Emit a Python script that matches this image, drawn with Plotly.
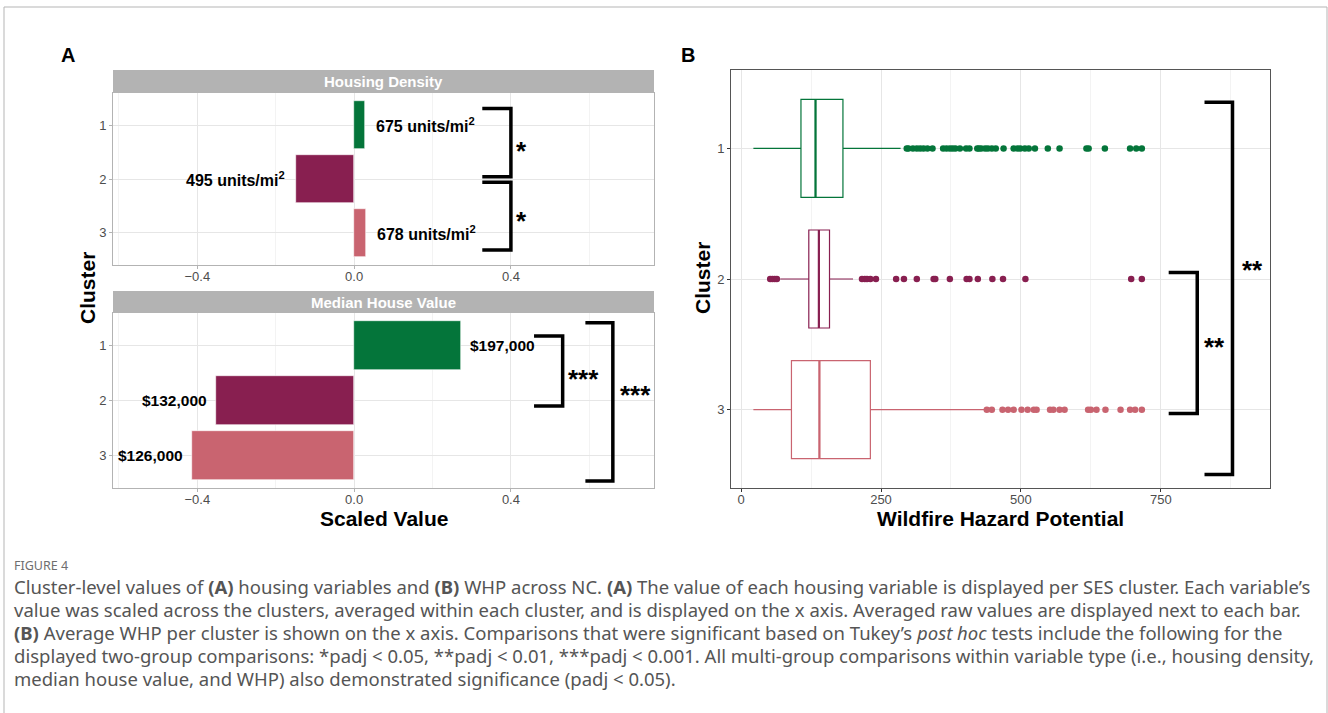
import plotly.graph_objects as go

# ---------------- data ----------------
clusters = [1, 2, 3]
cluster_ticks = ["1", "2", "3"]

# Panel A: scaled values
housing_density_scaled = [0.028, -0.148, 0.030]
housing_density_raw = [675, 495, 678]
house_value_scaled = [0.273, -0.352, -0.413]
house_value_raw = [197000, 132000, 126000]

scaled_ticks = [-0.4, 0.0, 0.4]
scaled_ticktext = ["\u22120.4", "0.0", "0.4"]
scaled_minor = [-0.6, -0.2, 0.2, 0.6]

# Panel B: WHP box summaries
whp_lowerfence = [22, 70, 22]
whp_q1 = [107, 121, 90]
whp_median = [133, 139, 140]
whp_q3 = [182, 158, 231]
whp_upperfence = [285, 200, 436]
whp_outliers = [
    [296, 299, 307, 314, 320, 326, 333, 342, 361, 367, 373, 378, 383, 391, 402, 408,
     422, 425, 429, 436, 441, 448, 455, 469, 487, 494, 499, 507, 514, 525, 548, 569,
     617, 621, 650, 695, 706, 716],
    [52, 56, 60, 64, 216, 221, 225, 231, 241, 277, 291, 314, 344, 347, 373, 403, 408,
     423, 449, 468, 508, 697, 716],
    [439, 448, 467, 477, 487, 501, 512, 523, 528, 552, 558, 569, 578, 620, 625, 635,
     651, 678, 695, 704, 716],
]
whp_ticks = [0, 250, 500, 750]
whp_minor = [125, 375, 625, 875]

# significance comparisons (labels)
hd_sig = ["*", "*"]
mhv_sig = ["***", "***"]
whp_sig = ["**", "**"]

colors = ["#04753A", "#881F50", "#C96470"]

# ---------------- layout helpers ----------------
W, H = 1328, 713
FONT = "Liberation Sans, Arial, Helvetica, sans-serif"


def px(x):
    return x / W


def py(y):
    return 1 - y / H


fig = go.Figure()

# Panel A bars
fig.add_trace(go.Bar(x=housing_density_scaled, y=clusters, orientation="h", width=0.9,
                     marker=dict(color=colors, line=dict(color="white", width=0.6)),
                     xaxis="x", yaxis="y", showlegend=False, hoverinfo="skip"))
fig.add_trace(go.Bar(x=house_value_scaled, y=clusters, orientation="h", width=0.9,
                     marker=dict(color=colors, line=dict(color="white", width=0.6)),
                     xaxis="x2", yaxis="y2", showlegend=False, hoverinfo="skip"))

# Panel B boxes
BOXW = 0.75
for i, c in enumerate(clusters):
    fig.add_trace(go.Box(y=[c], q1=[whp_q1[i]], median=[whp_median[i]], q3=[whp_q3[i]],
                         lowerfence=[whp_lowerfence[i]], upperfence=[whp_upperfence[i]],
                         orientation="h", width=BOXW, boxpoints=False, whiskerwidth=0,
                         fillcolor="white", line=dict(color=colors[i], width=1.2),
                         xaxis="x3", yaxis="y3", showlegend=False, hoverinfo="skip"))
    fig.add_trace(go.Scatter(x=[whp_median[i], whp_median[i]], y=[c - BOXW / 2, c + BOXW / 2],
                             mode="lines", line=dict(color=colors[i], width=2.2),
                             xaxis="x3", yaxis="y3", showlegend=False, hoverinfo="skip"))
    fig.add_trace(go.Scatter(x=whp_outliers[i], y=[c] * len(whp_outliers[i]), mode="markers",
                             marker=dict(color=colors[i], size=6.5),
                             xaxis="x3", yaxis="y3", showlegend=False, hoverinfo="skip"))

tickfont = dict(family=FONT, size=13, color="#4d4d4d")

A_x = [px(113), px(654)]
B_x = [px(731), px(1270)]
A_top_y = [py(265), py(93)]
A_bot_y = [py(488), py(313)]
B_y = [py(488), py(70)]

common_A_x = dict(range=[-0.615, 0.765], tickvals=scaled_ticks, ticktext=scaled_ticktext,
                  showgrid=True, gridcolor="#e6e6e6", gridwidth=1, zeroline=False,
                  minor=dict(tickvals=scaled_minor, showgrid=True, gridcolor="#f3f3f3", gridwidth=1),
                  showline=True, linecolor="#b3b3b3", linewidth=1, mirror=True,
                  ticks="outside", ticklen=3, tickcolor="#b3b3b3", tickfont=tickfont,
                  ticklabelstandoff=-4)
common_A_y = dict(range=[3.6, 0.4], tickvals=clusters, ticktext=cluster_ticks,
                  showgrid=True, gridcolor="#e6e6e6", zeroline=False,
                  showline=True, linecolor="#b3b3b3", linewidth=1, mirror=True,
                  ticks="outside", ticklen=3, tickcolor="#b3b3b3", tickfont=tickfont)

fig.update_layout(
    width=W, height=H, margin=dict(l=0, r=0, t=0, b=0),
    paper_bgcolor="white", plot_bgcolor="white", bargap=0,
    font=dict(family=FONT),
    xaxis=dict(domain=A_x, anchor="y", **common_A_x),
    yaxis=dict(domain=A_top_y, anchor="x", **common_A_y),
    xaxis2=dict(domain=A_x, anchor="y2", **common_A_x),
    yaxis2=dict(domain=A_bot_y, anchor="x2", **common_A_y),
    xaxis3=dict(domain=B_x, anchor="y3", range=[-18, 945], tickvals=whp_ticks,
                showgrid=True, gridcolor="#e6e6e6", zeroline=False,
                minor=dict(tickvals=whp_minor, showgrid=True, gridcolor="#f3f3f3"),
                showline=True, linecolor="#555555", linewidth=1, mirror=True,
                ticks="outside", ticklen=3, tickcolor="#333333", tickfont=tickfont,
                ticklabelstandoff=-4),
    yaxis3=dict(domain=B_y, anchor="x3", range=[3.6, 0.4], tickvals=clusters, ticktext=cluster_ticks,
                showgrid=True, gridcolor="#e6e6e6", zeroline=False,
                showline=True, linecolor="#555555", linewidth=1, mirror=True,
                ticks="outside", ticklen=3, tickcolor="#333333", tickfont=tickfont),
)

shapes = []
ann = []

# outer frame
shapes.append(dict(type="rect", xref="paper", yref="paper", x0=px(4), x1=px(1327), y0=py(720), y1=py(7),
                   line=dict(color="#b5b5b5", width=1), fillcolor="rgba(0,0,0,0)", layer="below"))

# strips
for (y0, y1, label) in [(py(93), py(70), "Housing Density"), (py(313), py(291), "Median House Value")]:
    shapes.append(dict(type="rect", xref="paper", yref="paper", x0=A_x[0], x1=A_x[1], y0=y0, y1=y1,
                       line=dict(width=0), fillcolor="#b3b3b3"))
    ann.append(dict(xref="paper", yref="paper", x=(A_x[0] + A_x[1]) / 2, y=(y0 + y1) / 2,
                    text=f"<b>{label}</b>", showarrow=False,
                    font=dict(family=FONT, size=15, color="white"), xanchor="center", yanchor="middle"))

# bar labels
for i, c in enumerate(clusters):
    v = housing_density_scaled[i]
    ann.append(dict(xref="x", yref="y", x=v, y=c, text=f"<b>{housing_density_raw[i]} units/mi<sup>2</sup></b>",
                    showarrow=False, xanchor="left" if v >= 0 else "right", xshift=9 if v >= 0 else -9,
                    yanchor="middle", font=dict(family=FONT, size=16, color="black")))
    v = house_value_scaled[i]
    ann.append(dict(xref="x2", yref="y2", x=v, y=c, text=f"<b>${house_value_raw[i]:,}</b>",
                    showarrow=False, xanchor="left" if v >= 0 else "right", xshift=7 if v >= 0 else -7,
                    yanchor="middle", font=dict(family=FONT, size=15.5, color="black")))


def bracket(xr, yr, x0, x1, y0, y1, label, lx, ly, size):
    shapes.append(dict(type="path", xref=xr, yref=yr,
                       path=f"M {x0},{y0} L {x1},{y0} L {x1},{y1} L {x0},{y1}",
                       line=dict(color="black", width=3.5)))
    ann.append(dict(xref=xr, yref=yr, x=lx, y=ly, text=f"<b>{label}</b>", showarrow=False,
                    xanchor="center", yanchor="middle", font=dict(family=FONT, size=size, color="black")))


bracket("x", "y", 0.327, 0.400, 0.69, 1.96, hd_sig[0], 0.426, 1.47, 26)
bracket("x", "y", 0.327, 0.400, 2.06, 3.32, hd_sig[1], 0.426, 2.79, 26)
bracket("x2", "y2", 0.459, 0.532, 0.82, 2.10, mhv_sig[0], 0.585, 1.61, 26)
bracket("x2", "y2", 0.590, 0.660, 0.58, 3.47, mhv_sig[1], 0.718, 1.90, 26)
bracket("x3", "y3", 764, 815, 1.95, 3.03, whp_sig[0], 846, 2.52, 26)
bracket("x3", "y3", 828, 878, 0.646, 3.496, whp_sig[1], 913, 1.93, 26)

# panel letters
ann.append(dict(xref="paper", yref="paper", x=px(68), y=py(55), text="<b>A</b>", showarrow=False,
                xanchor="center", yanchor="middle", font=dict(family=FONT, size=20, color="black")))
ann.append(dict(xref="paper", yref="paper", x=px(688), y=py(55), text="<b>B</b>", showarrow=False,
                xanchor="center", yanchor="middle", font=dict(family=FONT, size=20, color="black")))

# axis titles
title_font = dict(family=FONT, size=21, color="black")
ann.append(dict(xref="paper", yref="paper", x=(A_x[0] + A_x[1]) / 2, y=py(518), text="<b>Scaled Value</b>",
                showarrow=False, xanchor="center", yanchor="middle", font=title_font))
ann.append(dict(xref="paper", yref="paper", x=(B_x[0] + B_x[1]) / 2, y=py(518),
                text="<b>Wildfire Hazard Potential</b>",
                showarrow=False, xanchor="center", yanchor="middle", font=title_font))
ann.append(dict(xref="paper", yref="paper", x=px(87), y=py(288), text="<b>Cluster</b>", textangle=-90,
                showarrow=False, xanchor="center", yanchor="middle", font=title_font))
ann.append(dict(xref="paper", yref="paper", x=px(703), y=py(278), text="<b>Cluster</b>", textangle=-90,
                showarrow=False, xanchor="center", yanchor="middle", font=title_font))

# caption
CAP_FONT = "Noto Sans, Open Sans, sans-serif"
ann.append(dict(xref="paper", yref="paper", x=px(12), y=py(565), text="FIGURE 4", showarrow=False,
                xanchor="left", yanchor="middle", font=dict(family=CAP_FONT, size=12.5, color="#6e6e6e")))
caption_lines = [
    "Cluster-level values of <b>(A)</b> housing variables and <b>(B)</b> WHP across NC. <b>(A)</b> The value of each housing variable is displayed per SES cluster. Each variable\u2019s",
    "value was scaled across the clusters, averaged within each cluster, and is displayed on the x axis. Averaged raw values are displayed next to each bar.",
    "<b>(B)</b> Average WHP per cluster is shown on the x axis. Comparisons that were significant based on Tukey\u2019s <i>post hoc</i> tests include the following for the",
    "displayed two-group comparisons: *padj &lt; 0.05, **padj &lt; 0.01, ***padj &lt; 0.001. All multi-group comparisons within variable type (i.e., housing density,",
    "median house value, and WHP) also demonstrated significance (padj &lt; 0.05).",
]
for k, line in enumerate(caption_lines):
    ann.append(dict(xref="paper", yref="paper", x=px(12), y=py(586 + 23 * k), text=line, showarrow=False,
                    xanchor="left", yanchor="middle", font=dict(family=CAP_FONT, size=18.5, color="#555555")))

fig.update_layout(shapes=shapes, annotations=ann)
fig.write_html("out.html", config={"displayModeBar": False},
               post_script="document.body.style.margin='0px';document.body.style.overflow='hidden';")
